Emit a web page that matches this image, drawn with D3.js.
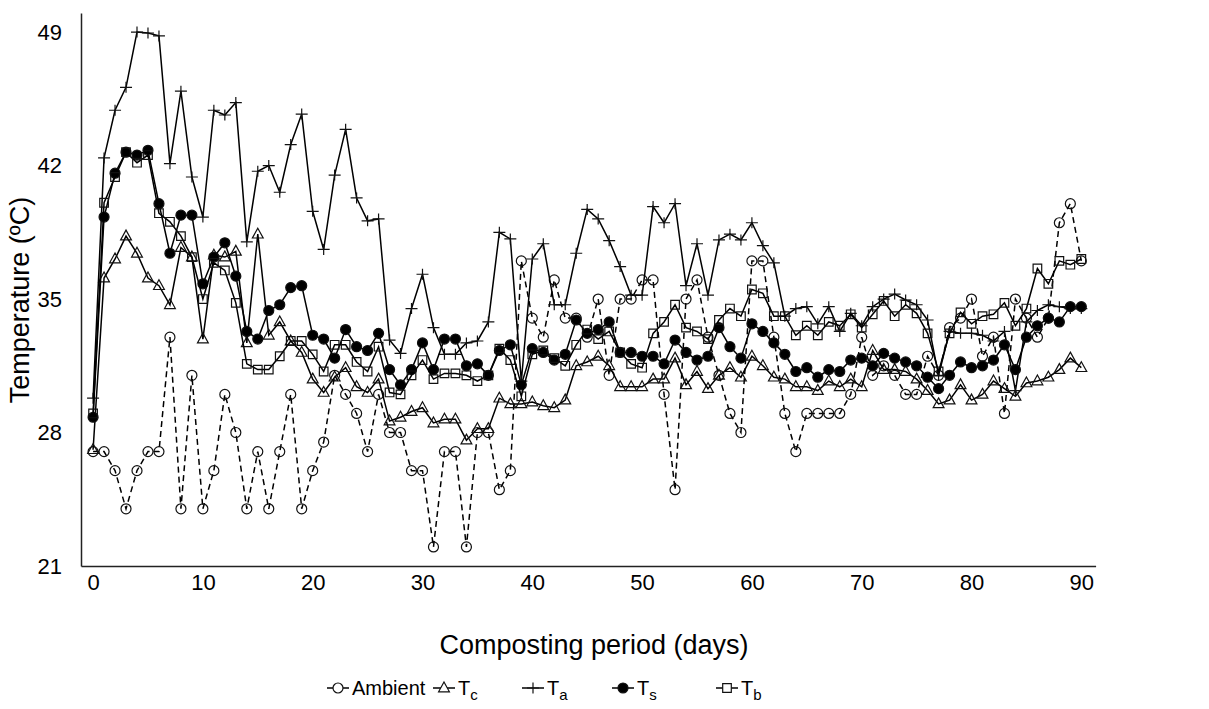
<!DOCTYPE html>
<html>
<head>
<meta charset="utf-8">
<script src="https://cdn.jsdelivr.net/npm/d3@7"></script>
<style>
  body { margin: 0; background: #fff; }
  text { font-family: Arial, "Liberation Sans", sans-serif; fill: #000; }
</style>
</head>
<body>
<svg id="chart" width="1209" height="709"></svg>
<script>
"use strict";

// composting days 0..90
var days = d3.range(0, 91);

var ambient = [27, 27, 26, 24, 26, 27, 27, 33, 24, 31,
  24, 26, 30, 28, 24, 27, 24, 27, 30, 24,
  26, 27.5, 31, 30, 29, 27, 30, 28, 28, 26,
  26, 22, 27, 27, 22, 28, 28, 25, 26, 37,
  34, 33, 36, 34, 34, 33, 35, 31, 35, 35,
  36, 36, 30, 25, 35, 36, 33, 31, 29, 28,
  37, 37, 33, 29, 27, 29, 29, 29, 29, 30,
  33, 31, 31.5, 31, 30, 30, 32, 31, 33.5, 34,
  35, 32, 33, 29, 35, 34, 33, 34, 39, 40,
  37];

var tc = [27.1, 36.1, 37.1, 38.3, 37.4, 36.1, 35.7, 34.7, 37.7, 37.2,
  32.9, 37.3, 37.2, 37.5, 32.7, 38.4, 33.1, 33.8, 32.8, 32.2,
  30.8, 30.1, 30.9, 31.4, 30.4, 30.1, 30.8, 28.6, 28.8, 29.1,
  29.3, 28.5, 28.7, 28.7, 27.6, 28.2, 28.2, 29.8, 29.5, 29.5,
  29.6, 29.4, 29.3, 29.7, 31.5, 31.7, 32.0, 31.5, 30.4, 30.4,
  30.4, 30.8, 30.8, 31.9, 30.5, 31.2, 30.3, 31.0, 31.4, 30.9,
  32.0, 31.5, 30.9, 30.8, 30.4, 30.4, 30.2, 30.7, 30.4, 30.8,
  30.4, 32.3, 31.3, 31.3, 31.2, 30.8, 30.2, 29.5, 29.7, 30.5,
  29.7, 30.0, 30.7, 30.3, 29.9, 30.6, 30.7, 30.9, 31.3, 31.9,
  31.4];

var ta = [29.8, 42.4, 44.9, 46.1, 49.0, 48.95, 48.8, 42.1, 45.9, 41.4,
  39.3, 44.9, 44.65, 45.3, 38.0, 41.7, 42.0, 40.6, 43.1, 44.7,
  39.6, 37.6, 41.5, 43.9, 40.3, 39.1, 39.2, 32.85, 32.15, 34.5,
  36.3, 33.5, 32.1, 32.1, 32.7, 32.8, 33.8, 38.5, 38.15, 30.7,
  37.1, 37.9, 34.7, 34.7, 37.4, 39.7, 39.2, 38.06, 36.7, 35.2,
  35.2, 39.85, 39.0, 40.0, 35.7, 37.9, 35.2, 38.1, 38.4, 38.1,
  39.0, 37.8, 36.9, 34.1, 34.5, 34.6, 33.7, 34.6, 33.3, 34.25,
  33.6, 34.6, 35.0, 35.26, 34.95, 34.7, 33.9, 31.0, 33.3, 33.2,
  33.2, 33.1, 32.8, 33.3, 30.2, 33.8, 34.4, 34.7, 34.6, 34.5,
  34.5];

var ts = [28.8, 39.3, 41.6, 42.7, 42.55, 42.8, 40.0, 37.4, 39.4, 39.4,
  35.8, 37.2, 37.95, 36.2, 33.3, 32.9, 34.4, 34.7, 35.6, 35.7,
  33.1, 32.9, 31.9, 33.4, 32.5, 32.3, 33.2, 31.3, 30.5, 31.3,
  32.7, 31.3, 32.9, 32.9, 31.5, 31.6, 31.0, 32.3, 32.6, 30.5,
  32.4, 32.2, 31.8, 32.1, 33.9, 33.2, 33.4, 33.8, 32.2, 32.2,
  32.0, 32.0, 31.6, 32.85, 32.2, 31.8, 32.0, 33.5, 32.5, 31.9,
  33.7, 33.3, 32.7, 32.1, 31.2, 31.4, 30.9, 31.3, 31.2, 31.8,
  31.9, 31.5, 32.15, 31.9, 31.7, 31.5, 30.9, 30.3, 31.0, 31.7,
  31.4, 31.5, 31.8, 32.6, 31.3, 33.0, 33.6, 34.0, 33.8, 34.6,
  34.6];

var tb = [29.0, 40.05, 41.4, 42.7, 42.15, 42.55, 39.5, 39.05, 38.3, 37.2,
  35.0, 36.9, 36.5, 34.8, 31.6, 31.3, 31.3, 32.0, 32.8, 32.8,
  32.1, 31.2, 32.6, 32.6, 31.7, 31.2, 32.5, 30.1, 30.0, 31.0,
  31.8, 30.8, 31.1, 31.1, 31.0, 30.7, 31.0, 32.4, 31.8, 29.9,
  32.1, 32.3, 31.9, 31.5, 32.6, 33.4, 32.9, 33.3, 32.2, 31.6,
  31.4, 33.2, 33.8, 34.7, 33.5, 33.3, 32.9, 33.9, 34.5, 34.1,
  35.5, 35.3, 34.1, 34.1, 33.1, 33.6, 33.1, 33.8, 33.6, 34.2,
  33.5, 34.2, 34.9, 34.1, 34.7, 34.25, 33.2, 31.2, 33.2, 34.3,
  33.7, 34.1, 34.2, 34.8, 33.6, 34.5, 36.6, 35.8, 37.0, 36.8,
  37.1];

var xTicks = [0, 10, 20, 30, 40, 50, 60, 70, 80, 90];
var yTicks = [21, 28, 35, 42, 49];

var seriesNames = ["Ambient", "Tc", "Ta", "Ts", "Tb"];
var seriesSubs = ["", "c", "a", "s", "b"];
var seriesValues = [ambient, tc, ta, ts, tb];

// drawing styles per series, same order as seriesNames
var styles = [
  { marker: "circle", fill: "none", dash: "6,4" },
  { marker: "triangle", fill: "none", dash: null },
  { marker: "plus", fill: "none", dash: null },
  { marker: "circle", fill: "#000", dash: null },
  { marker: "square", fill: "none", dash: null }
];

var config = {
  axisLeft: 81,
  axisRight: 1095.6,
  axisTop: 13,
  axisBottom: 566,
  tickFont: 22,
  titleFont: 27,
  legendFont: 20
};

var svg = d3.select("#chart");

var x = d3.scaleLinear().domain([-1.1, 91.3]).range([config.axisLeft, config.axisRight]);
var y = d3.scaleLinear().domain([21, 50]).range([config.axisBottom, config.axisTop]);

function markerPath(kind) {
  if (kind === "circle") return d3.symbol(d3.symbolCircle, Math.PI * 25)();
  if (kind === "triangle") return "M0,-6L5.4,3.8L-5.4,3.8Z";
  if (kind === "square") return "M-4.3,-4.3H4.3V4.3H-4.3Z";
  return "M-6,0H6M0,-5.5V5.5";
}

var series = seriesNames.map(function(name, i) {
  return {
    name: name,
    sub: seriesSubs[i],
    style: styles[i],
    points: days.map(function(d, j) { return { day: d, value: seriesValues[i][j] }; })
  };
});

// axes, no tick marks
var xAxisG = svg.append("g")
  .attr("transform", "translate(0," + config.axisBottom + ")")
  .call(d3.axisBottom(x).tickValues(xTicks).tickSize(0).tickPadding(8));
var yAxisG = svg.append("g")
  .attr("transform", "translate(" + config.axisLeft + ",0)")
  .call(d3.axisLeft(y).tickValues(yTicks).tickSize(0).tickPadding(19));

[xAxisG, yAxisG].forEach(function(g) {
  g.select(".domain").attr("stroke", "#222").attr("stroke-width", 1.5);
  g.selectAll("text")
    .attr("fill", "#000")
    .style("font-size", config.tickFont + "px")
    .style("font-family", "Arial, 'Liberation Sans', sans-serif");
});

var line = d3.line()
  .x(function(d) { return x(d.day); })
  .y(function(d) { return y(d.value); });

var plotG = svg.append("g");

series.forEach(function(s) {
  var g = plotG.append("g").attr("class", "series");
  g.append("path")
    .datum(s.points)
    .attr("d", line)
    .attr("fill", "none")
    .attr("stroke", "#000")
    .attr("stroke-width", 1.5)
    .attr("stroke-dasharray", s.style.dash);
  g.selectAll("path.marker")
    .data(s.points)
    .enter().append("path")
    .attr("class", "marker")
    .attr("d", markerPath(s.style.marker))
    .attr("transform", function(d) { return "translate(" + x(d.day) + "," + y(d.value) + ")"; })
    .attr("fill", s.style.fill)
    .attr("stroke", "#111")
    .attr("stroke-width", 1.2);
});

// axis titles
svg.append("text")
  .attr("x", 594)
  .attr("y", 654)
  .attr("text-anchor", "middle")
  .style("font-size", config.titleFont + "px")
  .text("Composting period (days)");

svg.append("text")
  .attr("transform", "translate(29,300) rotate(-90)")
  .attr("text-anchor", "middle")
  .style("font-size", config.titleFont + "px")
  .text("Temperature (ºC)");

// legend
var legendX = [338, 444, 533, 623, 727];
var legendY = 688;
var legendG = svg.append("g");

series.forEach(function(s, i) {
  var cx = legendX[i];
  var item = legendG.append("g");
  item.append("line")
    .attr("x1", cx - 11).attr("x2", cx + 11)
    .attr("y1", legendY).attr("y2", legendY)
    .attr("stroke", "#000")
    .attr("stroke-width", 1.5);
  item.append("path")
    .attr("d", markerPath(s.style.marker))
    .attr("transform", "translate(" + cx + "," + legendY + ")")
    .attr("fill", s.style.fill === "none" ? "#fff" : s.style.fill)
    .attr("stroke", "#111")
    .attr("stroke-width", 1.2);
  var label = item.append("text")
    .attr("x", cx + 14)
    .attr("y", legendY + 7)
    .style("font-size", config.legendFont + "px")
    .text(s.name.charAt(0));
  if (s.sub) {
    label.append("tspan")
      .attr("dy", 5)
      .style("font-size", "15px")
      .text(s.sub);
  } else {
    label.text(s.name);
  }
});
</script>
</body>
</html>
